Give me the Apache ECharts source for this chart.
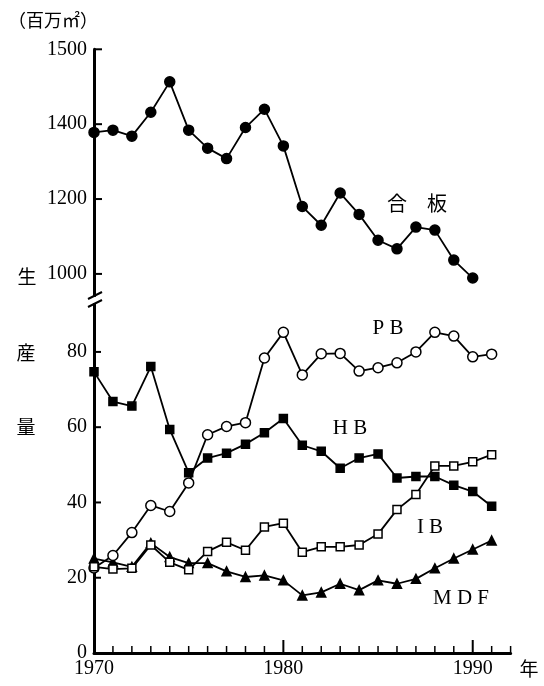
<!DOCTYPE html>
<html>
<head>
<meta charset="utf-8">
<script src="https://cdn.jsdelivr.net/npm/echarts@6/dist/echarts.min.js"></script>
<style>
    html, body { margin: 0; padding: 0; background: #fff; }
    #chart { width: 544px; height: 686px; }
</style>
</head>
<body>
<div id="chart"></div>
<script>
// 年
var years = [1970,1971,1972,1973,1974,1975,1976,1977,1978,1979,1980,1981,1982,1983,1984,1985,1986,1987,1988,1989,1990,1991];
// 合板 (1970-1990)
var plywood = [1378,1384,1368,1432,1513,1384,1336,1308,1391,1440,1342,1180,1130,1216,1159,1090,1067,1125,1117,1037,989];
// PB / HB / IB / MDF
var pb = [22.6,25.9,32.0,39.2,37.6,45.2,58.0,60.2,61.2,78.4,85.2,73.9,79.5,79.6,74.9,75.8,77.1,80.0,85.2,84.2,78.7,79.4];
var hb = [74.7,66.8,65.6,76.1,59.4,47.9,51.8,53.1,55.5,58.5,62.3,55.2,53.6,49.1,51.8,52.9,46.5,46.9,46.9,44.6,42.9,39.0];
var ib = [22.9,22.3,22.5,28.7,24.1,22.1,27.0,29.4,27.3,33.5,34.5,26.8,28.2,28.2,28.7,31.6,38.1,42.1,49.7,49.7,50.8,52.7];
var mdf = [25.1,24.1,22.9,29.2,25.5,23.9,23.9,21.7,20.2,20.6,19.3,15.3,16.1,18.4,16.7,19.3,18.4,19.7,22.5,25.1,27.5,29.9];
// 目盛
var upperTicks = [1000,1200,1400,1600];
var lowerTicks = [0,20,40,60,80];
var yearLabels = [1970,1980,1990];
var tickYears = years.concat([1992]);

var serif = 'Liberation Serif';
var cjk = 'Noto Sans CJK JP';

function pairs(values) {
    var out = [];
    for (var i = 0; i < values.length; i++) {
        out.push([years[i], values[i]]);
    }
    return out;
}

function lineSeries(name, values, symbol, size, filled, axisIndex) {
    return {
        name: name,
        type: 'line',
        xAxisIndex: axisIndex,
        yAxisIndex: axisIndex,
        data: pairs(values),
        symbol: symbol,
        symbolSize: size,
        showAllSymbol: true,
        lineStyle: { color: '#000', width: 1.8 },
        itemStyle: { color: filled ? '#000' : '#fff', borderColor: '#000', borderWidth: 1.5 },
        z: filled ? 3 : 4
    };
}

function label(text, x, y, font) {
    return { type: 'text', x: x, y: y, style: { text: text, font: font, fill: '#000', align: 'center', verticalAlign: 'middle' } };
}

function seg(x1, y1, x2, y2, w) {
    return { type: 'line', shape: { x1: x1, y1: y1, x2: x2, y2: y2 }, style: { stroke: '#000', lineWidth: w }, z: 5 };
}

var chart = echarts.init(document.getElementById('chart'));
var option = {
    animation: false,
    backgroundColor: '#fff',
    grid: [
        { left: 94, right: 33.4, top: 49.3, height: 246.7 },
        { left: 94, right: 33.4, top: 303, bottom: 33 }
    ],
    xAxis: [
        {
            gridIndex: 0, type: 'value', min: 1970, max: 1992,
            show: false
        },
        {
            gridIndex: 1, type: 'value', min: 1970, max: 1992, interval: 1,
            axisLine: { show: true, lineStyle: { color: '#000', width: 3 } },
            axisTick: { show: false },
            axisLabel: {
                customValues: yearLabels, margin: 6,
                color: '#000', fontFamily: serif, fontSize: 20,
                formatter: function (v) { return String(v); }
            },
            splitLine: { show: false }
        }
    ],
    yAxis: [
        {
            gridIndex: 0, type: 'value', min: 941, max: 1600,
            axisLine: { show: true, lineStyle: { color: '#000', width: 3 } },
            axisTick: { show: false },
            axisLabel: {
                customValues: upperTicks, margin: 7,
                color: '#000', fontFamily: serif, fontSize: 20,
                formatter: function (v) { return v == 1600 ? '1500' : String(v); }
            },
            splitLine: { show: false }
        },
        {
            gridIndex: 1, type: 'value', min: 0, max: 93,
            axisLine: { show: true, lineStyle: { color: '#000', width: 3 } },
            axisTick: { show: false },
            axisLabel: {
                customValues: lowerTicks, margin: 7,
                color: '#000', fontFamily: serif, fontSize: 20,
                formatter: function (v) { return String(v); }
            },
            splitLine: { show: false }
        }
    ],
    series: [
        lineSeries('合板', plywood, 'circle', 10, true, 0),
        lineSeries('PB', pb, 'circle', 10, false, 1),
        lineSeries('HB', hb, 'rect', 8, true, 1),
        lineSeries('IB', ib, 'rect', 8, false, 1),
        lineSeries('MDF', mdf, 'triangle', 9, true, 1)
    ]
};
chart.setOption(option);

// 目盛線（軸のスケールから位置を取る）
var graphics = [];
var axisX = chart.convertToPixel({ xAxisIndex: 1 }, 1970);
var axisY = chart.convertToPixel({ yAxisIndex: 1 }, 0);
upperTicks.forEach(function (v) {
    var py = chart.convertToPixel({ yAxisIndex: 0 }, v);
    graphics.push(seg(axisX, py, axisX + 8, py, 2));
});
lowerTicks.slice(1).forEach(function (v) {
    var py = chart.convertToPixel({ yAxisIndex: 1 }, v);
    graphics.push(seg(axisX, py, axisX + 7, py, 2));
});
tickYears.forEach(function (y) {
    var px = chart.convertToPixel({ xAxisIndex: 1 }, y);
    var major = yearLabels.indexOf(y) >= 0;
    graphics.push(seg(px, axisY, px, axisY - (major ? 13 : 7), major ? 2 : 1.5));
});

// 文字
graphics.push({ type: 'text', left: 8, top: 11, style: { text: '（百万㎡）', font: '18px "' + cjk + '"', fill: '#000' } });
graphics.push(label('生', 27, 277, '19px "' + cjk + '"'));
graphics.push(label('産', 26, 353, '19px "' + cjk + '"'));
graphics.push(label('量', 26, 427, '19px "' + cjk + '"'));
graphics.push(label('年', 529, 669, '19px "' + cjk + '"'));
graphics.push(label('合　板', 417, 203, '20px "' + cjk + '"'));
graphics.push(label('P B', 388, 328, '21px "' + serif + '"'));
graphics.push(label('H B', 350, 428, '21px "' + serif + '"'));
graphics.push(label('I B', 430, 527, '21px "' + serif + '"'));
graphics.push(label('M D F', 461, 598, '21px "' + serif + '"'));

// 省略線
graphics.push({ type: 'rect', shape: { x: 86, y: 297, width: 16, height: 6 }, style: { fill: '#fff' }, z: 10 });
graphics.push({ type: 'line', shape: { x1: 88, y1: 299, x2: 102, y2: 292 }, style: { stroke: '#000', lineWidth: 2 }, z: 11 });
graphics.push({ type: 'line', shape: { x1: 88, y1: 307, x2: 102, y2: 300 }, style: { stroke: '#000', lineWidth: 2 }, z: 11 });

chart.setOption({ graphic: graphics });
</script>
</body>
</html>
